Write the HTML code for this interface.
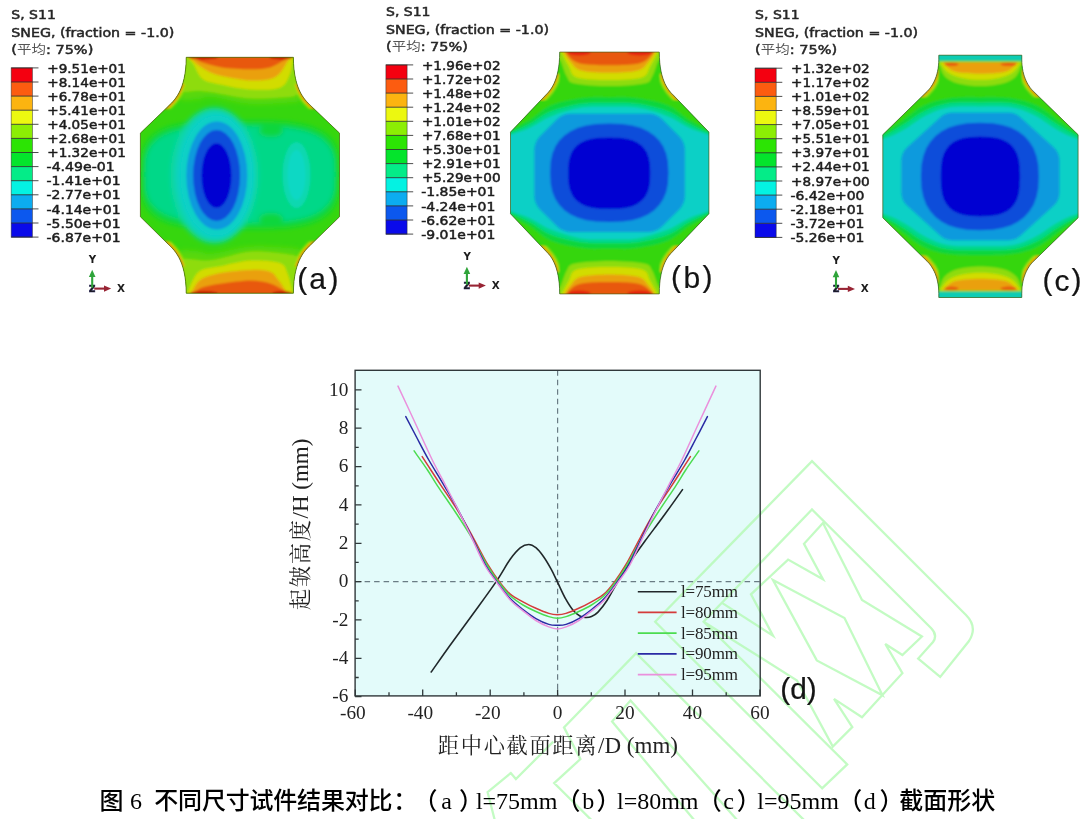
<!DOCTYPE html>
<html lang="zh"><head><meta charset="utf-8"><title>图 6 不同尺寸试件结果对比</title>
<style>
html,body{margin:0;padding:0;background:#fff;}
body{width:1087px;height:819px;overflow:hidden;}
svg{display:block;}
.lt text{font-family:"DejaVu Sans","Liberation Sans","Noto Sans CJK SC",sans-serif;font-size:12.4px;fill:#262626;stroke:#262626;stroke-width:.5px;}
.ll text{font-family:"DejaVu Sans","Liberation Sans",sans-serif;font-size:12.4px;fill:#1c1c1c;stroke:#1c1c1c;stroke-width:.5px;}
.tr text{font-family:"DejaVu Sans","Liberation Sans",sans-serif;font-size:10px;font-weight:bold;fill:#1c1c1c;}
.cj{fill:#555;stroke:none;}
.tk{stroke:#303030;stroke-width:1;opacity:.85}
.pl{font-family:"Liberation Sans",sans-serif;font-size:30px;fill:#141414;stroke:#141414;stroke-width:.2px;}
.ax text{font-family:"Liberation Serif","Noto Serif CJK SC",serif;fill:#222;}
.cap{font-family:"Liberation Serif","Noto Sans CJK SC",sans-serif;font-size:24px;font-weight:500;fill:#000;}
</style></head><body>
<svg width="1087" height="819" viewBox="0 0 1087 819">
<rect width="1087" height="819" fill="#fff"/>
<defs><filter id="bl" x="-10%" y="-10%" width="120%" height="120%"><feGaussianBlur stdDeviation="1.3"/></filter><filter id="b3" x="-10%" y="-10%" width="120%" height="120%"><feGaussianBlur stdDeviation="2.6"/></filter><filter id="b2" x="-5%" y="-5%" width="110%" height="110%"><feGaussianBlur stdDeviation="0.45"/></filter></defs>
<rect x="355.1" y="370.3" width="405.1" height="325.6" fill="#e3fbfa"/>
<path d="M822.1 788.3L655.2 621.7L812 461.1L966 615Q978 627 969 641L940.2 676.9L918.2 658.6L933 642Q938 635 931 628L812 509.5L703.6 621.7L847.2 764.4ZM703.6 621.7L797 680.5L832.8 746.5L852.3 727L834 698.9L862 717.2L902.4 673.2L885.3 644L902.4 655L921.9 636.5L862 600L823 523L804 543.8L823 579.2L788.1 559.6L751 594.3L773 635.7L721.6 602.6M773 580L844.5 618L882.5 695.2L816.8 660.4ZM592.4 821L554.2 783.1L580.4 759.1L564 727.4L636.1 653.1L805 821M695 821L612.1 721.6L630.5 700.5L738 821M553.3 741.6L515.9 779.1L510.8 773L487.6 792.2L495 821" fill="none" stroke="#b4fab4" stroke-opacity=".8" stroke-width="2.3" stroke-linejoin="miter"/>
<g class="ax">
<line x1="355.1" x2="760.2" y1="581.6" y2="581.6" stroke="#6a7c84" stroke-width="1.2" stroke-dasharray="5.5 4"/>
<line x1="557.6" x2="557.6" y1="370.3" y2="695.9" stroke="#6a7c84" stroke-width="1.2" stroke-dasharray="5.5 4"/>
<g filter="url(#b2)">
<path d="M431.2 672.0C434.4 667.5 443.6 654.3 450.3 645.0C457.0 635.7 463.9 626.5 471.5 616.0C479.1 605.5 489.6 591.4 496.0 581.9C502.4 572.4 506.1 565.0 510.2 559.3C514.3 553.6 517.4 550.2 520.5 547.7C523.6 545.2 526.2 544.5 528.8 544.5C531.4 544.5 533.4 545.7 535.9 547.7C538.4 549.7 541.0 553.1 543.6 556.7C546.2 560.4 549.1 565.4 551.4 569.6C553.7 573.8 555.0 577.0 557.4 581.9C559.8 586.8 563.1 594.4 565.8 599.2C568.5 604.0 571.1 608.0 573.5 610.8C575.9 613.6 578.0 614.9 579.9 616.0C581.8 617.1 583.2 617.4 585.1 617.5C587.0 617.6 589.4 617.5 591.5 616.6C593.6 615.7 595.4 614.8 598.0 612.1C600.6 609.4 603.8 605.4 607.0 600.5C610.2 595.6 613.4 588.9 617.3 582.5C621.2 576.1 625.6 568.9 630.2 562.0C634.8 555.1 639.4 548.7 645.0 541.0C650.6 533.3 657.4 524.6 663.6 516.0C669.9 507.4 679.4 494.0 682.5 489.6" fill="none" stroke="#20282a" stroke-width="1.6" stroke-linecap="round" stroke-linejoin="round"/>
<path d="M422.2 456.6C423.8 459.0 428.3 466.1 431.5 471.0C434.7 475.9 436.8 479.1 441.3 485.8C445.8 492.6 453.0 502.9 458.3 511.5C463.6 520.1 468.1 528.4 473.0 537.3C477.9 546.2 483.6 557.6 488.0 565.0C492.4 572.4 495.8 577.0 499.5 581.9C503.2 586.8 506.3 590.8 510.2 594.1C514.1 597.4 518.7 599.4 523.0 601.8C527.3 604.2 531.6 606.4 535.9 608.3C540.2 610.2 545.2 612.3 548.8 613.4C552.4 614.5 554.6 614.7 557.5 614.7C560.4 614.7 562.5 614.5 566.0 613.4C569.6 612.3 574.5 610.2 578.7 608.3C582.9 606.4 587.2 604.2 591.4 601.8C595.6 599.4 600.1 597.4 603.9 594.1C607.8 590.8 610.8 586.8 614.5 581.9C618.1 577.0 621.4 572.4 625.7 565.0C630.1 557.6 635.6 546.2 640.5 537.3C645.3 528.4 649.7 520.1 654.9 511.5C660.1 502.9 667.2 492.6 671.6 485.8C676.0 479.1 678.1 475.9 681.2 471.0C684.4 466.1 688.8 459.0 690.4 456.6" fill="none" stroke="#d43a3a" stroke-width="1.5" stroke-linecap="round" stroke-linejoin="round"/>
<path d="M414.1 450.9C416.3 454.1 423.6 464.2 427.5 470.0C431.4 475.8 432.9 478.9 437.5 485.8C442.1 492.7 449.3 502.9 455.0 511.5C460.7 520.1 466.2 528.4 471.5 537.3C476.8 546.2 482.5 557.6 487.0 565.0C491.5 572.4 494.6 576.8 498.5 581.9C502.4 587.0 506.1 591.9 510.2 595.8C514.3 599.6 518.7 602.4 523.0 605.0C527.3 607.6 531.6 609.6 535.9 611.5C540.2 613.4 545.2 615.5 548.8 616.6C552.4 617.7 554.6 618.3 557.5 618.3C560.4 618.3 562.5 617.7 566.1 616.6C569.6 615.5 574.6 613.4 578.8 611.5C583.0 609.6 587.3 607.6 591.5 605.0C595.7 602.4 600.1 599.6 604.1 595.8C608.2 591.9 611.9 587.0 615.7 581.9C619.5 576.8 622.6 572.4 627.0 565.0C631.5 557.6 637.0 546.2 642.3 537.3C647.6 528.4 653.0 520.1 658.6 511.5C664.2 502.9 671.3 492.7 675.8 485.8C680.3 478.9 681.8 475.8 685.7 470.0C689.5 464.2 696.7 454.1 698.9 450.9" fill="none" stroke="#4cdc50" stroke-width="1.5" stroke-linecap="round" stroke-linejoin="round"/>
<path d="M405.8 416.6C407.7 420.2 413.2 430.8 417.0 438.0C420.8 445.2 424.2 452.0 428.8 460.0C433.4 468.0 439.3 477.2 444.3 485.8C449.3 494.4 454.4 502.9 459.0 511.5C463.6 520.1 467.6 528.4 472.0 537.3C476.4 546.2 481.3 557.6 485.5 565.0C489.7 572.4 492.9 576.3 497.0 581.9C501.1 587.5 505.9 594.0 510.2 598.6C514.5 603.2 518.7 606.3 523.0 609.6C527.3 612.9 531.6 616.1 535.9 618.6C540.2 621.1 545.2 623.3 548.8 624.4C552.4 625.5 554.6 625.3 557.5 625.3C560.4 625.3 562.5 625.5 566.1 624.4C569.7 623.3 574.6 621.1 578.8 618.6C583.1 616.1 587.4 612.9 591.6 609.6C595.8 606.3 600.0 603.2 604.2 598.6C608.5 594.0 613.2 587.5 617.3 581.9C621.3 576.3 624.5 572.4 628.6 565.0C632.8 557.6 637.6 546.2 642.0 537.3C646.3 528.4 650.3 520.1 654.8 511.5C659.4 502.9 664.4 494.4 669.3 485.8C674.3 477.2 680.2 468.0 684.7 460.0C689.2 452.0 692.5 445.2 696.3 438.0C700.1 430.8 705.5 420.2 707.4 416.6" fill="none" stroke="#2a2aa4" stroke-width="1.5" stroke-linecap="round" stroke-linejoin="round"/>
<path d="M398.0 386.1C400.9 392.2 409.5 410.7 415.2 423.0C420.9 435.3 427.2 449.5 432.3 460.0C437.4 470.5 441.4 477.2 445.8 485.8C450.2 494.4 454.7 502.9 459.0 511.5C463.3 520.1 467.2 528.4 471.5 537.3C475.8 546.2 480.5 557.6 484.6 565.0C488.7 572.4 492.0 576.1 496.3 581.9C500.6 587.7 505.8 595.1 510.2 599.9C514.6 604.7 518.7 607.4 523.0 610.8C527.3 614.2 531.6 617.8 535.9 620.5C540.2 623.2 545.2 625.5 548.8 626.9C552.4 628.3 554.6 628.9 557.5 628.9C560.4 628.9 562.6 628.3 566.1 626.9C569.7 625.5 574.7 623.2 578.9 620.5C583.2 617.8 587.5 614.2 591.8 610.8C596.0 607.4 600.1 604.7 604.5 599.9C608.9 595.1 614.0 587.7 618.3 581.9C622.5 576.1 625.8 572.4 629.9 565.0C634.0 557.6 638.7 546.2 642.9 537.3C647.1 528.4 651.1 520.1 655.3 511.5C659.6 502.9 664.0 494.4 668.4 485.8C672.8 477.2 676.8 470.5 681.8 460.0C686.9 449.5 693.1 435.3 698.8 423.0C704.5 410.7 713.0 392.2 715.9 386.1" fill="none" stroke="#ea90dc" stroke-width="1.5" stroke-linecap="round" stroke-linejoin="round"/>
<line x1="637.8" x2="676.6" y1="591.7" y2="591.7" stroke="#20282a" stroke-width="1.6"/>
<line x1="637.8" x2="676.6" y1="612.4" y2="612.4" stroke="#d43a3a" stroke-width="1.6"/>
<line x1="637.8" x2="676.6" y1="633.1" y2="633.1" stroke="#4cdc50" stroke-width="1.6"/>
<line x1="637.8" x2="676.6" y1="653.9" y2="653.9" stroke="#2a2aa4" stroke-width="1.6"/>
<line x1="637.8" x2="676.6" y1="674.6" y2="674.6" stroke="#ea90dc" stroke-width="1.6"/>
</g>
<text x="681" y="597.1" font-size="17" textLength="57">l=75mm</text>
<text x="681" y="617.8" font-size="17" textLength="57">l=80mm</text>
<text x="681" y="638.5" font-size="17" textLength="57">l=85mm</text>
<text x="681" y="659.3" font-size="17" textLength="57">l=90mm</text>
<text x="681" y="680.0" font-size="17" textLength="57">l=95mm</text>
<rect x="355.1" y="370.3" width="405.1" height="325.6" fill="none" stroke="#30383a" stroke-width="1.4"/>
<path d="M355.1 696.6h6.4M355.1 677.5h3.6M355.1 658.3h6.4M355.1 639.1h3.6M355.1 619.9h6.4M355.1 600.8h3.6M355.1 581.6h6.4M355.1 562.4h3.6M355.1 543.3h6.4M355.1 524.1h3.6M355.1 504.9h6.4M355.1 485.8h3.6M355.1 466.6h6.4M355.1 447.4h3.6M355.1 428.2h6.4M355.1 409.1h3.6M355.1 389.9h6.4M355.3 695.9v-6.4M389.0 695.9v-3.6M422.7 695.9v-6.4M456.4 695.9v-3.6M490.2 695.9v-6.4M523.9 695.9v-3.6M557.6 695.9v-6.4M591.3 695.9v-3.6M625.0 695.9v-6.4M658.8 695.9v-3.6M692.5 695.9v-6.4M726.2 695.9v-3.6M759.9 695.9v-6.4" stroke="#30383a" stroke-width="1.3" fill="none"/>
<text x="348.4" y="702.3" font-size="19.3" text-anchor="end">-6</text>
<text x="348.4" y="664.0" font-size="19.3" text-anchor="end">-4</text>
<text x="348.4" y="625.6" font-size="19.3" text-anchor="end">-2</text>
<text x="348.4" y="587.3" font-size="19.3" text-anchor="end">0</text>
<text x="348.4" y="549.0" font-size="19.3" text-anchor="end">2</text>
<text x="348.4" y="510.6" font-size="19.3" text-anchor="end">4</text>
<text x="348.4" y="472.3" font-size="19.3" text-anchor="end">6</text>
<text x="348.4" y="433.9" font-size="19.3" text-anchor="end">8</text>
<text x="348.4" y="395.6" font-size="19.3" text-anchor="end">10</text>
<text x="352.9" y="718.6" font-size="19.3" text-anchor="middle">-60</text>
<text x="420.3" y="718.6" font-size="19.3" text-anchor="middle">-40</text>
<text x="487.8" y="718.6" font-size="19.3" text-anchor="middle">-20</text>
<text x="557.6" y="718.6" font-size="19.3" text-anchor="middle">0</text>
<text x="625.0" y="718.6" font-size="19.3" text-anchor="middle">20</text>
<text x="692.5" y="718.6" font-size="19.3" text-anchor="middle">40</text>
<text x="759.9" y="718.6" font-size="19.3" text-anchor="middle">60</text>
<text x="557.9" y="753.4" font-size="23" text-anchor="middle"><tspan font-size="21.2" letter-spacing="1.7">距中心截面距离</tspan>/D (mm)</text>
<text transform="translate(308.3 524.3) rotate(-90)" font-size="23" text-anchor="middle"><tspan font-size="21.2" letter-spacing="1.7">起皱高度</tspan>/H (mm)</text>
</g>
<clipPath id="cpa"><path d="M186.2 57.3L293.4 57.3L293.4 57.3C293.4 91.6 306.9 101.8 311.4 106.3L339.5 133.1L339.5 216.8L311.4 244.2C306.9 248.7 293.4 258.9 293.4 293.2L293.4 293.2L186.2 293.2L186.2 293.2C186.2 258.9 172.7 248.7 168.2 244.2L140.4 216.8L140.4 133.1L168.2 106.3C172.7 101.8 186.2 91.6 186.2 57.3Z"/></clipPath>
<g clip-path="url(#cpa)">
<path d="M186.2 57.3L293.4 57.3L293.4 57.3C293.4 91.6 306.9 101.8 311.4 106.3L339.5 133.1L339.5 216.8L311.4 244.2C306.9 248.7 293.4 258.9 293.4 293.2L293.4 293.2L186.2 293.2L186.2 293.2C186.2 258.9 172.7 248.7 168.2 244.2L140.4 216.8L140.4 133.1L168.2 106.3C172.7 101.8 186.2 91.6 186.2 57.3Z" fill="#36d60e" stroke="#36d60e" stroke-width="8"/>
<g filter="url(#b3)">
<path d="M339.0 175.0L338.3 193.1L336.1 202.1L332.5 208.9L327.4 214.5L320.7 219.0L312.4 222.7L302.2 225.5L289.6 227.4L273.2 228.6L240.0 229.0L206.8 228.6L190.4 227.4L177.8 225.5L167.6 222.7L159.3 219.0L152.6 214.5L147.5 208.9L143.9 202.1L141.7 193.1L141.0 175.0L141.7 156.9L143.9 147.9L147.5 141.1L152.6 135.5L159.3 131.0L167.6 127.3L177.8 124.5L190.4 122.6L206.8 121.4L240.0 121.0L273.2 121.4L289.6 122.6L302.2 124.5L312.4 127.3L320.7 131.0L327.4 135.5L332.5 141.1L336.1 147.9L338.3 156.9Z" fill="#10d63c"/>
<path d="M335.0 174.5L334.3 189.7L332.1 197.8L328.4 204.1L323.2 209.3L316.5 213.6L308.2 217.0L298.0 219.6L285.6 221.5L269.8 222.6L240.0 223.0L210.2 222.6L194.4 221.5L182.0 219.6L171.8 217.0L163.5 213.6L156.8 209.3L151.6 204.1L147.9 197.8L145.7 189.7L145.0 174.5L145.7 159.3L147.9 151.2L151.6 144.9L156.8 139.7L163.5 135.4L171.8 132.0L182.0 129.4L194.4 127.5L210.2 126.4L240.0 126.0L269.8 126.4L285.6 127.5L298.0 129.4L308.2 132.0L316.5 135.4L323.2 139.7L328.4 144.9L332.1 151.2L334.3 159.3Z" fill="#06d888"/>
<ellipse cx="271" cy="131" rx="12" ry="6" fill="#10d63c"/>
<ellipse cx="271" cy="219" rx="12" ry="6" fill="#10d63c"/>
<ellipse cx="214.5" cy="175.5" rx="44" ry="68" fill="#08d6a8"/>
<ellipse cx="215.5" cy="175.5" rx="39" ry="63" fill="#0cd0c6"/>
<path d="M180.0 100.0C181.7 100.0 186.7 100.2 190.0 100.0C193.3 99.8 196.3 99.5 200.0 99.0C203.7 98.5 203.8 96.2 212.3 97.0C220.8 97.8 238.0 103.1 250.9 104.0C263.8 104.9 281.4 103.0 289.6 102.5C297.8 102.0 298.3 101.2 300.0 101.0L300.0 50L180.0 50Z" fill="#58d80a"/>
<path d="M180.0 250.4C181.7 250.4 186.7 250.2 190.0 250.4C193.3 250.6 196.3 250.9 200.0 251.4C203.7 251.9 203.8 254.2 212.3 253.4C220.8 252.6 238.0 247.3 250.9 246.4C263.8 245.5 281.4 247.4 289.6 247.9C297.8 248.4 298.3 249.1 300.0 249.4L300.0 300L180.0 300Z" fill="#58d80a"/>
</g>
<g filter="url(#bl)">
<ellipse cx="216.5" cy="175.5" rx="36" ry="60" fill="#0cd0c6"/>
<ellipse cx="216.8" cy="175.5" rx="30.5" ry="54" fill="#0c9add"/>
<ellipse cx="216.6" cy="175.5" rx="23.5" ry="45.5" fill="#0c4eda"/>
<ellipse cx="216.5" cy="175.6" rx="15" ry="32.3" fill="#0606d2"/>
<ellipse cx="296.5" cy="175" rx="14" ry="33" fill="#0cd8b0"/>
<ellipse cx="296.5" cy="175" rx="9" ry="25" fill="#10d8c4"/>
<path d="M180.0 92.0C181.3 92.0 185.3 92.2 188.0 92.0C190.7 91.8 191.9 90.9 196.0 91.0C200.1 91.1 203.2 91.2 212.3 92.5C221.5 93.8 238.0 97.8 250.9 98.6C263.8 99.3 282.1 97.6 289.6 97.0C297.1 96.4 293.9 95.3 296.0 95.0C298.1 94.7 301.0 95.0 302.0 95.0L302.0 50L180.0 50Z" fill="#8edc08"/>
<path d="M186.5 57.0C187.6 58.1 190.3 59.8 193.0 63.5C195.7 67.2 197.8 75.5 202.6 79.0C207.4 82.5 213.8 83.0 221.9 84.8C230.0 86.6 241.2 89.1 250.9 89.6C260.6 90.1 273.4 90.1 279.9 87.7C286.3 85.3 287.3 80.2 289.6 75.1C291.9 70.0 292.9 60.0 293.5 57.0L293.5 50L186.5 50Z" fill="#d2dc06"/>
<path d="M189.1 57.0C190.7 58.4 194.9 62.8 198.8 65.5C202.7 68.2 206.8 71.1 212.3 73.2C217.8 75.3 225.2 76.8 231.6 78.0C238.0 79.2 244.5 80.3 250.9 80.5C257.3 80.7 265.4 80.2 270.2 79.0C275.0 77.8 277.0 76.1 279.9 73.2C282.8 70.3 285.7 64.3 287.6 61.6C289.5 58.9 290.9 57.8 291.5 57.0L291.5 50L189.1 50Z" fill="#eaa00a"/>
<path d="M193.0 57.0C194.6 57.9 197.8 60.9 202.6 62.6C207.4 64.3 213.8 66.3 221.9 67.4C230.0 68.5 242.9 69.3 250.9 69.3C258.9 69.3 265.1 68.7 270.2 67.4C275.3 66.1 278.6 63.3 281.8 61.6C285.0 59.9 288.3 57.8 289.6 57.0L289.6 50L193.0 50Z" fill="#e8580c"/>
<ellipse cx="203" cy="57" rx="15" ry="2.6" fill="#c41800"/>
<ellipse cx="281" cy="57" rx="12" ry="2.6" fill="#c41800"/>
<path d="M180.0 258.0C181.7 258.2 184.6 258.7 190.0 259.0C195.4 259.3 202.2 261.2 212.3 260.0C222.5 258.8 238.0 252.4 250.9 251.5C263.8 250.6 282.1 253.7 289.6 254.4C297.1 255.2 293.9 255.7 296.0 256.0C298.1 256.3 301.0 256.0 302.0 256.0L302.0 300L180.0 300Z" fill="#8edc08"/>
<path d="M187.0 293.5C189.0 289.9 193.0 276.4 198.8 271.8C204.6 267.2 213.2 267.9 221.9 266.0C230.6 264.1 241.2 261.1 250.9 260.6C260.6 260.1 273.8 260.9 279.9 263.1C286.0 265.3 285.4 268.7 287.6 273.8C289.8 278.9 292.1 290.2 293.0 293.5L293.0 300L187.0 300Z" fill="#d2dc06"/>
<path d="M191.0 293.5C192.6 291.2 195.5 283.1 200.7 279.6C205.8 276.2 213.5 274.4 221.9 272.8C230.3 271.2 242.9 270.1 250.9 269.9C258.9 269.7 265.7 270.2 270.2 271.8C274.7 273.4 275.1 276.0 278.0 279.6C280.9 283.2 286.0 291.2 287.6 293.5L287.6 300L191.0 300Z" fill="#eaa00a"/>
<path d="M193.0 293.5C194.6 292.5 197.8 289.0 202.6 287.3C207.4 285.6 213.8 284.5 221.9 283.4C230.0 282.3 242.9 280.5 250.9 280.5C258.9 280.5 265.1 281.9 270.2 283.4C275.3 284.8 278.6 287.5 281.8 289.2C285.0 290.9 288.3 292.8 289.6 293.5L289.6 300L193.0 300Z" fill="#e8580c"/>
<ellipse cx="204" cy="293.6" rx="14" ry="2.6" fill="#c41800"/>
<ellipse cx="282" cy="293.6" rx="10" ry="2.6" fill="#c41800"/>
<clipPath id="hca"><rect x="164.0" y="84.0" width="21.5" height="25.0"/><rect x="164.0" y="241.4" width="21.5" height="25.0"/><rect x="294.1" y="84.0" width="21.5" height="25.0"/><rect x="294.1" y="241.4" width="21.5" height="25.0"/></clipPath>
<g clip-path="url(#hca)"><path d="M186.2 57.3L293.4 57.3L293.4 57.3C293.4 91.6 306.9 101.8 311.4 106.3L339.5 133.1L339.5 216.8L311.4 244.2C306.9 248.7 293.4 258.9 293.4 293.2L293.4 293.2L186.2 293.2L186.2 293.2C186.2 258.9 172.7 248.7 168.2 244.2L140.4 216.8L140.4 133.1L168.2 106.3C172.7 101.8 186.2 91.6 186.2 57.3Z" fill="none" stroke="#8edc08" stroke-width="8.0"/><path d="M186.2 57.3L293.4 57.3L293.4 57.3C293.4 91.6 306.9 101.8 311.4 106.3L339.5 133.1L339.5 216.8L311.4 244.2C306.9 248.7 293.4 258.9 293.4 293.2L293.4 293.2L186.2 293.2L186.2 293.2C186.2 258.9 172.7 248.7 168.2 244.2L140.4 216.8L140.4 133.1L168.2 106.3C172.7 101.8 186.2 91.6 186.2 57.3Z" fill="none" stroke="#d2dc06" stroke-width="4.6"/><path d="M186.2 57.3L293.4 57.3L293.4 57.3C293.4 91.6 306.9 101.8 311.4 106.3L339.5 133.1L339.5 216.8L311.4 244.2C306.9 248.7 293.4 258.9 293.4 293.2L293.4 293.2L186.2 293.2L186.2 293.2C186.2 258.9 172.7 248.7 168.2 244.2L140.4 216.8L140.4 133.1L168.2 106.3C172.7 101.8 186.2 91.6 186.2 57.3Z" fill="none" stroke="#e8580c" stroke-width="2.0"/></g>
</g></g>
<path d="M186.2 57.3L293.4 57.3L293.4 57.3C293.4 91.6 306.9 101.8 311.4 106.3L339.5 133.1L339.5 216.8L311.4 244.2C306.9 248.7 293.4 258.9 293.4 293.2L293.4 293.2L186.2 293.2L186.2 293.2C186.2 258.9 172.7 248.7 168.2 244.2L140.4 216.8L140.4 133.1L168.2 106.3C172.7 101.8 186.2 91.6 186.2 57.3Z" fill="none" stroke="#4a5a10" stroke-width=".9" opacity=".75" filter="url(#b2)"/>
<clipPath id="cpb"><path d="M559.7 52.1L659.3 52.1L659.3 52.1C659.3 82.2 669.8 91.6 673.3 95.1L708.9 132.1L708.9 213.8L673.3 250.9C669.8 254.4 659.3 263.8 659.3 293.9L659.3 293.9L559.7 293.9L559.7 293.9C559.7 263.8 549.2 254.4 545.7 250.9L510.5 213.8L510.5 132.1L545.7 95.1C549.2 91.6 559.7 82.2 559.7 52.1Z"/></clipPath>
<g clip-path="url(#cpb)">
<path d="M559.7 52.1L659.3 52.1L659.3 52.1C659.3 82.2 669.8 91.6 673.3 95.1L708.9 132.1L708.9 213.8L673.3 250.9C669.8 254.4 659.3 263.8 659.3 293.9L659.3 293.9L559.7 293.9L559.7 293.9C559.7 263.8 549.2 254.4 545.7 250.9L510.5 213.8L510.5 132.1L545.7 95.1C549.2 91.6 559.7 82.2 559.7 52.1Z" fill="#0cd0c6" stroke="#0cd0c6" stroke-width="8"/>
<g filter="url(#bl)">
<path d="M505.0 136.5C506.5 136.0 509.8 135.0 514.0 133.5C518.2 132.0 524.3 130.3 530.4 127.5C536.5 124.7 542.2 119.8 550.6 116.5C559.0 113.2 571.2 109.2 581.0 107.6C590.8 105.9 600.0 106.6 609.5 106.6C619.0 106.6 628.2 105.9 638.0 107.6C647.8 109.2 660.0 113.2 668.4 116.5C676.8 119.8 682.5 124.7 688.6 127.5C694.7 130.3 700.8 132.0 705.0 133.5C709.2 135.0 712.5 136.0 714.0 136.5L714.0 40L505.0 40Z" fill="#06d888"/>
<path d="M505.0 209.5C506.5 210.0 509.8 211.0 514.0 212.5C518.2 214.0 524.3 215.7 530.4 218.5C536.5 221.3 542.2 226.2 550.6 229.5C559.0 232.8 571.2 236.8 581.0 238.4C590.8 240.1 600.0 239.4 609.5 239.4C619.0 239.4 628.2 240.1 638.0 238.4C647.8 236.8 660.0 232.8 668.4 229.5C676.8 226.2 682.5 221.3 688.6 218.5C694.7 215.7 700.8 214.0 705.0 212.5C709.2 211.0 712.5 210.0 714.0 209.5L714.0 305L505.0 305Z" fill="#06d888"/>
<path d="M505.0 133.5C506.2 133.2 507.9 133.7 512.1 132.0C516.3 130.3 524.0 126.9 530.4 123.5C536.8 120.1 542.2 114.8 550.6 111.5C559.0 108.2 571.2 105.2 581.0 103.8C590.8 102.3 600.0 102.8 609.5 102.8C619.0 102.8 628.2 102.3 638.0 103.8C647.8 105.2 660.0 108.2 668.4 111.5C676.8 114.8 682.2 120.1 688.6 123.5C695.0 126.9 702.7 130.3 706.9 132.0C711.1 133.7 712.8 133.2 714.0 133.5L714.0 40L505.0 40Z" fill="#10d63c"/>
<path d="M505.0 212.5C506.2 212.8 507.9 212.3 512.1 214.0C516.3 215.7 524.0 219.1 530.4 222.5C536.8 225.9 542.2 231.2 550.6 234.5C559.0 237.8 571.2 240.8 581.0 242.2C590.8 243.6 600.0 243.2 609.5 243.2C619.0 243.2 628.2 243.6 638.0 242.2C647.8 240.8 660.0 237.8 668.4 234.5C676.8 231.2 682.2 225.9 688.6 222.5C695.0 219.1 702.7 215.7 706.9 214.0C711.1 212.3 712.8 212.8 714.0 212.5L714.0 305L505.0 305Z" fill="#10d63c"/>
<path d="M505.0 131.0C505.9 130.8 506.3 131.9 510.5 130.0C514.7 128.1 523.7 123.6 530.4 119.5C537.1 115.4 542.2 109.0 550.6 105.5C559.0 102.0 571.2 99.5 581.0 98.2C590.8 96.9 600.0 97.4 609.5 97.4C619.0 97.4 628.2 96.9 638.0 98.2C647.8 99.5 660.0 102.0 668.4 105.5C676.8 109.0 681.9 115.4 688.6 119.5C695.3 123.6 704.3 128.1 708.5 130.0C712.7 131.9 713.1 130.8 714.0 131.0L714.0 40L505.0 40Z" fill="#36d60e"/>
<path d="M505.0 215.0C505.9 215.2 506.3 214.1 510.5 216.0C514.7 217.9 523.7 222.4 530.4 226.5C537.1 230.6 542.2 236.9 550.6 240.5C559.0 244.1 571.2 246.5 581.0 247.8C590.8 249.2 600.0 248.6 609.5 248.6C619.0 248.6 628.2 249.2 638.0 247.8C647.8 246.5 660.0 244.1 668.4 240.5C676.8 236.9 681.9 230.6 688.6 226.5C695.3 222.4 704.3 217.9 708.5 216.0C712.7 214.1 713.1 215.2 714.0 215.0L714.0 305L505.0 305Z" fill="#36d60e"/>
<path d="M556.0 60.2C556.7 60.2 558.5 57.5 560.3 60.2C562.1 62.9 564.4 72.5 566.8 76.4C569.2 80.3 567.8 81.9 574.9 83.5C582.0 85.1 598.0 86.1 609.5 86.1C621.0 86.1 637.0 85.1 644.1 83.5C651.2 81.9 649.8 80.3 652.2 76.4C654.6 72.5 656.9 62.9 658.7 60.2C660.5 57.5 662.3 60.2 663.0 60.2L663.0 40L556.0 40Z" fill="#8edc08"/>
<path d="M556.0 286.8C556.7 286.8 558.5 289.5 560.3 286.8C562.1 284.1 564.4 274.5 566.8 270.6C569.2 266.7 567.8 265.1 574.9 263.5C582.0 261.9 598.0 260.9 609.5 260.9C621.0 260.9 637.0 261.9 644.1 263.5C651.2 265.1 649.8 266.7 652.2 270.6C654.6 274.5 656.9 284.1 658.7 286.8C660.5 289.5 662.3 286.8 663.0 286.8L663.0 305L556.0 305Z" fill="#8edc08"/>
<path d="M560.7 51.0C562.1 53.5 566.1 61.9 568.8 66.3C571.5 70.7 570.1 75.1 576.9 77.4C583.7 79.7 598.6 79.9 609.5 79.9C620.4 79.9 635.3 79.7 642.1 77.4C648.9 75.1 647.5 70.7 650.2 66.3C652.9 61.9 656.9 53.5 658.3 51.0L658.3 40L560.7 40Z" fill="#d2dc06"/>
<path d="M560.7 296.0C562.1 293.4 566.1 285.1 568.8 280.7C571.5 276.3 570.1 271.9 576.9 269.6C583.7 267.3 598.6 267.1 609.5 267.1C620.4 267.1 635.3 267.3 642.1 269.6C648.9 271.9 647.5 276.3 650.2 280.7C652.9 285.1 656.9 293.4 658.3 296.0L658.3 305L560.7 305Z" fill="#d2dc06"/>
<path d="M562.7 51.0C564.1 52.9 567.8 59.1 570.8 62.3C573.8 65.5 574.5 68.7 581.0 70.4C587.5 72.2 600.0 72.8 609.5 72.8C619.0 72.8 631.5 72.2 638.0 70.4C644.5 68.7 645.2 65.5 648.2 62.3C651.2 59.1 654.9 52.9 656.3 51.0L656.3 40L562.7 40Z" fill="#eaa00a"/>
<path d="M562.7 296.2C564.1 294.3 567.8 288.1 570.8 284.9C573.8 281.7 574.5 278.6 581.0 276.8C587.5 275.1 600.0 274.4 609.5 274.4C619.0 274.4 631.5 275.1 638.0 276.8C644.5 278.6 645.2 281.7 648.2 284.9C651.2 288.1 654.9 294.3 656.3 296.2L656.3 305L562.7 305Z" fill="#eaa00a"/>
<path d="M564.8 51.0C566.1 52.5 569.5 58.0 572.9 60.2C576.3 62.4 578.9 63.4 585.0 64.3C591.1 65.1 601.3 65.3 609.5 65.3C617.7 65.3 627.9 65.1 634.0 64.3C640.1 63.4 642.7 62.4 646.1 60.2C649.5 58.0 652.9 52.5 654.2 51.0L654.2 40L564.8 40Z" fill="#e8580c"/>
<path d="M564.8 296.4C566.1 294.9 569.5 289.4 572.9 287.2C576.3 285.0 578.9 283.9 585.0 283.1C591.1 282.2 601.3 282.1 609.5 282.1C617.7 282.1 627.9 282.2 634.0 283.1C640.1 283.9 642.7 285.0 646.1 287.2C649.5 289.4 652.9 294.9 654.2 296.4L654.2 305L564.8 305Z" fill="#e8580c"/>
<ellipse cx="579" cy="52.3" rx="12" ry="3.2" fill="#e42408"/>
<ellipse cx="640" cy="52.3" rx="13" ry="3.2" fill="#e42408"/>
<ellipse cx="579" cy="293.7" rx="12" ry="3.2" fill="#e42408"/>
<ellipse cx="640" cy="293.7" rx="13" ry="3.2" fill="#e42408"/>
<polygon points="648.3,133.7 664.8,150.1 664.8,195.5 648.3,211.9 570.9,211.9 554.4,195.5 554.4,150.1 570.9,133.7" fill="#0c9add" stroke="#0c9add" stroke-width="40" stroke-linejoin="round"/>
<path d="M668.5 172.8L667.9 184.0L666.2 192.1L663.3 199.0L659.3 205.0L654.2 210.2L648.0 214.4L640.8 217.8L632.4 220.2L622.7 221.6L609.3 222.1L595.9 221.6L586.2 220.2L577.8 217.8L570.6 214.4L564.4 210.2L559.3 205.0L555.3 199.0L552.4 192.1L550.7 184.0L550.1 172.8L550.7 161.6L552.4 153.5L555.3 146.6L559.3 140.6L564.4 135.4L570.6 131.2L577.8 127.8L586.2 125.4L595.9 124.0L609.3 123.5L622.7 124.0L632.4 125.4L640.8 127.8L648.0 131.2L654.2 135.4L659.3 140.6L663.3 146.6L666.2 153.5L667.9 161.6Z" fill="#0c4eda"/>
<path d="M650.4 173.2L650.0 182.7L648.9 188.7L647.1 193.6L644.6 197.7L641.4 201.1L637.4 204.0L632.6 206.2L627.0 207.7L620.2 208.7L609.2 209.0L598.2 208.7L591.4 207.7L585.8 206.2L581.0 204.0L577.0 201.1L573.8 197.7L571.3 193.6L569.5 188.7L568.4 182.7L568.0 173.2L568.4 163.7L569.5 157.7L571.3 152.8L573.8 148.7L577.0 145.3L581.0 142.4L585.8 140.2L591.4 138.7L598.2 137.7L609.2 137.4L620.2 137.7L627.0 138.7L632.6 140.2L637.4 142.4L641.4 145.3L644.6 148.7L647.1 152.8L648.9 157.7L650.0 163.7Z" fill="#0606d2"/>
<clipPath id="hcb"><rect x="540.0" y="74.0" width="19.0" height="26.0"/><rect x="540.0" y="246.0" width="19.0" height="26.0"/><rect x="660.0" y="74.0" width="19.0" height="26.0"/><rect x="660.0" y="246.0" width="19.0" height="26.0"/></clipPath>
<g clip-path="url(#hcb)"><path d="M559.7 52.1L659.3 52.1L659.3 52.1C659.3 82.2 669.8 91.6 673.3 95.1L708.9 132.1L708.9 213.8L673.3 250.9C669.8 254.4 659.3 263.8 659.3 293.9L659.3 293.9L559.7 293.9L559.7 293.9C559.7 263.8 549.2 254.4 545.7 250.9L510.5 213.8L510.5 132.1L545.7 95.1C549.2 91.6 559.7 82.2 559.7 52.1Z" fill="none" stroke="#8edc08" stroke-width="8.0"/><path d="M559.7 52.1L659.3 52.1L659.3 52.1C659.3 82.2 669.8 91.6 673.3 95.1L708.9 132.1L708.9 213.8L673.3 250.9C669.8 254.4 659.3 263.8 659.3 293.9L659.3 293.9L559.7 293.9L559.7 293.9C559.7 263.8 549.2 254.4 545.7 250.9L510.5 213.8L510.5 132.1L545.7 95.1C549.2 91.6 559.7 82.2 559.7 52.1Z" fill="none" stroke="#d2dc06" stroke-width="4.6"/><path d="M559.7 52.1L659.3 52.1L659.3 52.1C659.3 82.2 669.8 91.6 673.3 95.1L708.9 132.1L708.9 213.8L673.3 250.9C669.8 254.4 659.3 263.8 659.3 293.9L659.3 293.9L559.7 293.9L559.7 293.9C559.7 263.8 549.2 254.4 545.7 250.9L510.5 213.8L510.5 132.1L545.7 95.1C549.2 91.6 559.7 82.2 559.7 52.1Z" fill="none" stroke="#e8580c" stroke-width="2.0"/></g>
</g></g>
<path d="M559.7 52.1L659.3 52.1L659.3 52.1C659.3 82.2 669.8 91.6 673.3 95.1L708.9 132.1L708.9 213.8L673.3 250.9C669.8 254.4 659.3 263.8 659.3 293.9L659.3 293.9L559.7 293.9L559.7 293.9C559.7 263.8 549.2 254.4 545.7 250.9L510.5 213.8L510.5 132.1L545.7 95.1C549.2 91.6 559.7 82.2 559.7 52.1Z" fill="none" stroke="#4a5a10" stroke-width=".9" opacity=".75" filter="url(#b2)"/>
<clipPath id="cpc"><path d="M938.8 55.2L1021.8 55.2L1021.8 59.2C1021.8 77.9 1029.8 87.8 1033.3 91.2L1078.1 134.7L1078.1 217.8L1033.3 261.5C1029.8 264.9 1021.8 274.8 1021.8 293.5L1021.8 297.5L938.8 297.5L938.8 293.5C938.8 274.8 930.8 264.9 927.3 261.5L882.8 217.8L882.8 134.7L927.3 91.2C930.8 87.8 938.8 77.9 938.8 59.2Z"/></clipPath>
<g clip-path="url(#cpc)">
<path d="M938.8 55.2L1021.8 55.2L1021.8 59.2C1021.8 77.9 1029.8 87.8 1033.3 91.2L1078.1 134.7L1078.1 217.8L1033.3 261.5C1029.8 264.9 1021.8 274.8 1021.8 293.5L1021.8 297.5L938.8 297.5L938.8 293.5C938.8 274.8 930.8 264.9 927.3 261.5L882.8 217.8L882.8 134.7L927.3 91.2C930.8 87.8 938.8 77.9 938.8 59.2Z" fill="#0cd0c6" stroke="#0cd0c6" stroke-width="8"/>
<g filter="url(#bl)">
<path d="M876.0 141.0C878.5 140.2 886.0 138.2 891.3 135.9C896.5 133.7 901.7 130.8 907.5 127.4C913.2 124.0 918.9 118.8 925.7 115.5C932.4 112.2 938.8 108.9 948.0 107.4C957.1 105.9 969.6 106.4 980.4 106.4C991.2 106.4 1003.7 105.9 1012.8 107.4C1022.0 108.9 1028.4 112.2 1035.1 115.5C1041.9 118.8 1047.6 124.0 1053.3 127.4C1059.1 130.8 1064.3 133.7 1069.5 135.9C1074.8 138.2 1082.3 140.2 1084.8 141.0L1084.8 40L876.0 40Z" fill="#06d888"/>
<path d="M876.0 211.6C878.5 212.4 886.0 214.4 891.3 216.7C896.5 218.9 901.7 221.8 907.5 225.2C913.2 228.6 918.9 233.8 925.7 237.1C932.4 240.4 938.8 243.7 948.0 245.2C957.1 246.7 969.6 246.2 980.4 246.2C991.2 246.2 1003.7 246.7 1012.8 245.2C1022.0 243.7 1028.4 240.4 1035.1 237.1C1041.9 233.8 1047.6 228.6 1053.3 225.2C1059.1 221.8 1064.3 218.9 1069.5 216.7C1074.8 214.4 1082.3 212.4 1084.8 211.6L1084.8 310L876.0 310Z" fill="#06d888"/>
<path d="M876.0 138.5C877.9 137.7 882.7 136.2 887.2 133.9C891.8 131.6 897.4 128.3 903.4 124.6C909.5 120.9 916.2 115.0 923.7 111.4C931.1 107.9 938.5 104.9 948.0 103.3C957.4 101.8 969.6 102.4 980.4 102.4C991.2 102.4 1003.4 101.8 1012.8 103.3C1022.3 104.9 1029.7 107.9 1037.1 111.4C1044.6 115.0 1051.3 120.9 1057.4 124.6C1063.4 128.3 1069.0 131.6 1073.6 133.9C1078.1 136.2 1082.9 137.7 1084.8 138.5L1084.8 40L876.0 40Z" fill="#10d63c"/>
<path d="M876.0 214.1C877.9 214.9 882.7 216.4 887.2 218.7C891.8 221.0 897.4 224.3 903.4 228.0C909.5 231.7 916.2 237.6 923.7 241.2C931.1 244.7 938.5 247.7 948.0 249.3C957.4 250.8 969.6 250.2 980.4 250.2C991.2 250.2 1003.4 250.8 1012.8 249.3C1022.3 247.7 1029.7 244.7 1037.1 241.2C1044.6 237.6 1051.3 231.7 1057.4 228.0C1063.4 224.3 1069.0 221.0 1073.6 218.7C1078.1 216.4 1082.9 214.9 1084.8 214.1L1084.8 310L876.0 310Z" fill="#10d63c"/>
<path d="M876.0 136.5C877.5 135.8 880.6 134.9 885.2 132.1C889.8 129.3 897.0 124.2 903.4 119.7C909.8 115.3 916.2 109.1 923.7 105.6C931.1 102.0 938.5 99.9 948.0 98.5C957.4 97.1 969.6 97.4 980.4 97.4C991.2 97.4 1003.4 97.1 1012.8 98.5C1022.3 99.9 1029.7 102.0 1037.1 105.6C1044.6 109.1 1051.0 115.3 1057.4 119.7C1063.8 124.2 1071.0 129.3 1075.6 132.1C1080.2 134.9 1083.3 135.8 1084.8 136.5L1084.8 40L876.0 40Z" fill="#36d60e"/>
<path d="M876.0 216.1C877.5 216.8 880.6 217.7 885.2 220.5C889.8 223.3 897.0 228.4 903.4 232.9C909.8 237.3 916.2 243.5 923.7 247.0C931.1 250.6 938.5 252.7 948.0 254.1C957.4 255.5 969.6 255.2 980.4 255.2C991.2 255.2 1003.4 255.5 1012.8 254.1C1022.3 252.7 1029.7 250.6 1037.1 247.0C1044.6 243.5 1051.0 237.3 1057.4 232.9C1063.8 228.4 1071.0 223.3 1075.6 220.5C1080.2 217.7 1083.3 216.8 1084.8 216.1L1084.8 310L876.0 310Z" fill="#36d60e"/>
<path d="M937.8 65.3C938.1 65.3 938.3 63.4 939.5 65.3C940.6 67.2 941.8 73.4 944.9 76.4C948.0 79.5 952.2 81.9 958.1 83.5C964.0 85.1 973.0 86.1 980.4 86.1C987.8 86.1 996.8 85.1 1002.7 83.5C1008.6 81.9 1012.8 79.5 1015.9 76.4C1019.0 73.4 1020.2 67.2 1021.3 65.3C1022.5 63.4 1022.7 65.3 1023.0 65.3L1023.0 40L937.8 40Z" fill="#8edc08"/>
<path d="M937.8 287.3C938.1 287.3 938.3 289.2 939.5 287.3C940.6 285.4 941.8 279.2 944.9 276.2C948.0 273.1 952.2 270.7 958.1 269.1C964.0 267.5 973.0 266.5 980.4 266.5C987.8 266.5 996.8 267.5 1002.7 269.1C1008.6 270.7 1012.8 273.1 1015.9 276.2C1019.0 279.2 1020.2 285.4 1021.3 287.3C1022.5 289.2 1022.7 287.3 1023.0 287.3L1023.0 310L937.8 310Z" fill="#8edc08"/>
<path d="M940.3 62.7C941.5 64.3 944.3 69.8 948.0 72.4C951.6 74.9 956.7 76.8 962.1 78.0C967.5 79.3 974.3 79.8 980.4 79.8C986.5 79.8 993.3 79.3 998.7 78.0C1004.1 76.8 1009.2 74.9 1012.8 72.4C1016.5 69.8 1019.3 64.3 1020.5 62.7L1020.5 40L940.3 40Z" fill="#d2dc06"/>
<path d="M940.3 289.9C941.5 288.3 944.3 282.8 948.0 280.2C951.6 277.7 956.7 275.8 962.1 274.6C967.5 273.3 974.3 272.8 980.4 272.8C986.5 272.8 993.3 273.3 998.7 274.6C1004.1 275.8 1009.2 277.7 1012.8 280.2C1016.5 282.8 1019.3 288.3 1020.5 289.9L1020.5 310L940.3 310Z" fill="#d2dc06"/>
<path d="M942.9 62.7C944.4 63.9 948.5 68.6 952.0 70.4C955.5 72.1 959.4 72.4 964.1 73.0C968.9 73.6 975.0 73.8 980.4 73.8C985.8 73.8 991.9 73.6 996.7 73.0C1001.4 72.4 1005.3 72.1 1008.8 70.4C1012.3 68.6 1016.4 63.9 1017.9 62.7L1017.9 40L942.9 40Z" fill="#eaa00a"/>
<path d="M942.9 289.9C944.4 288.7 948.5 284.0 952.0 282.2C955.5 280.5 959.4 280.2 964.1 279.6C968.9 279.0 975.0 278.8 980.4 278.8C985.8 278.8 991.9 279.0 996.7 279.6C1001.4 280.2 1005.3 280.5 1008.8 282.2C1012.3 284.0 1016.4 288.7 1017.9 289.9L1017.9 310L942.9 310Z" fill="#eaa00a"/>
<ellipse cx="951.5" cy="64.2" rx="7" ry="1.8" fill="#e8580c"/>
<ellipse cx="1008.5" cy="64.2" rx="8" ry="1.8" fill="#e8580c"/>
<ellipse cx="951.5" cy="288.4" rx="7" ry="1.8" fill="#e8580c"/>
<ellipse cx="1008.5" cy="288.4" rx="8" ry="1.8" fill="#e8580c"/>
<rect x="930" y="50" width="100" height="12.2" fill="#8edc08"/>
<rect x="930" y="50" width="100" height="11.3" fill="#10d63c"/>
<rect x="930" y="50" width="100" height="10.6" fill="#10ccb4"/>
<rect x="930" y="290.5" width="100" height="12" fill="#8edc08"/>
<rect x="930" y="291.3" width="100" height="12" fill="#10d63c"/>
<rect x="930" y="292" width="100" height="12" fill="#10ccb4"/>
<polygon points="1008.5,130.8 1041.4,160.5 1041.4,192.5 1008.5,222.2 952.3,222.2 919.4,192.5 919.4,160.5 952.3,130.8" fill="#0c9add" stroke="#0c9add" stroke-width="36" stroke-linejoin="round"/>
<path d="M1038.9 176.5L1038.3 188.3L1036.5 197.1L1033.6 204.7L1029.5 211.3L1024.4 217.0L1018.1 221.7L1010.9 225.4L1002.5 228.0L992.9 229.7L979.9 230.2L966.9 229.7L957.3 228.0L948.9 225.4L941.7 221.7L935.4 217.0L930.3 211.3L926.2 204.7L923.3 197.1L921.5 188.3L920.9 176.5L921.5 164.7L923.3 155.9L926.2 148.3L930.3 141.7L935.4 136.0L941.7 131.3L948.9 127.6L957.3 125.0L966.9 123.3L979.9 122.8L992.9 123.3L1002.5 125.0L1010.9 127.6L1018.1 131.3L1024.4 136.0L1029.5 141.7L1033.6 148.3L1036.5 155.9L1038.3 164.7Z" fill="#0c4eda"/>
<path d="M1020.2 176.5L1019.8 187.1L1018.8 193.8L1017.1 199.3L1014.6 203.9L1011.5 207.7L1007.6 210.9L1003.0 213.3L997.6 215.1L991.0 216.1L980.4 216.5L969.8 216.1L963.2 215.1L957.8 213.3L953.2 210.9L949.3 207.7L946.2 203.9L943.7 199.3L942.0 193.8L941.0 187.1L940.6 176.5L941.0 165.9L942.0 159.2L943.7 153.7L946.2 149.1L949.3 145.3L953.2 142.1L957.8 139.7L963.2 137.9L969.8 136.9L980.4 136.5L991.0 136.9L997.6 137.9L1003.0 139.7L1007.6 142.1L1011.5 145.3L1014.6 149.1L1017.1 153.7L1018.8 159.2L1019.8 165.9Z" fill="#0606d2"/>
<clipPath id="hcc"><rect x="921.0" y="70.0" width="17.3" height="27.0"/><rect x="921.0" y="255.7" width="17.3" height="27.0"/><rect x="1022.3" y="70.0" width="17.3" height="27.0"/><rect x="1022.3" y="255.7" width="17.3" height="27.0"/></clipPath>
<g clip-path="url(#hcc)"><path d="M938.8 55.2L1021.8 55.2L1021.8 59.2C1021.8 77.9 1029.8 87.8 1033.3 91.2L1078.1 134.7L1078.1 217.8L1033.3 261.5C1029.8 264.9 1021.8 274.8 1021.8 293.5L1021.8 297.5L938.8 297.5L938.8 293.5C938.8 274.8 930.8 264.9 927.3 261.5L882.8 217.8L882.8 134.7L927.3 91.2C930.8 87.8 938.8 77.9 938.8 59.2Z" fill="none" stroke="#8edc08" stroke-width="8.0"/><path d="M938.8 55.2L1021.8 55.2L1021.8 59.2C1021.8 77.9 1029.8 87.8 1033.3 91.2L1078.1 134.7L1078.1 217.8L1033.3 261.5C1029.8 264.9 1021.8 274.8 1021.8 293.5L1021.8 297.5L938.8 297.5L938.8 293.5C938.8 274.8 930.8 264.9 927.3 261.5L882.8 217.8L882.8 134.7L927.3 91.2C930.8 87.8 938.8 77.9 938.8 59.2Z" fill="none" stroke="#d2dc06" stroke-width="4.6"/><path d="M938.8 55.2L1021.8 55.2L1021.8 59.2C1021.8 77.9 1029.8 87.8 1033.3 91.2L1078.1 134.7L1078.1 217.8L1033.3 261.5C1029.8 264.9 1021.8 274.8 1021.8 293.5L1021.8 297.5L938.8 297.5L938.8 293.5C938.8 274.8 930.8 264.9 927.3 261.5L882.8 217.8L882.8 134.7L927.3 91.2C930.8 87.8 938.8 77.9 938.8 59.2Z" fill="none" stroke="#e8580c" stroke-width="2.0"/></g>
</g></g>
<path d="M938.8 55.2L1021.8 55.2L1021.8 59.2C1021.8 77.9 1029.8 87.8 1033.3 91.2L1078.1 134.7L1078.1 217.8L1033.3 261.5C1029.8 264.9 1021.8 274.8 1021.8 293.5L1021.8 297.5L938.8 297.5L938.8 293.5C938.8 274.8 930.8 264.9 927.3 261.5L882.8 217.8L882.8 134.7L927.3 91.2C930.8 87.8 938.8 77.9 938.8 59.2Z" fill="none" stroke="#4a5a10" stroke-width=".9" opacity=".75" filter="url(#b2)"/>
<g transform="translate(0,0)">
<g class="lt">
<text x="11.3" y="18.9" textLength="44.5" lengthAdjust="spacingAndGlyphs">S, S11</text>
<text x="11.3" y="37" textLength="163" lengthAdjust="spacingAndGlyphs">SNEG, (fraction = -1.0)</text>
<text x="11.3" y="54" textLength="82" lengthAdjust="spacingAndGlyphs">(<tspan class="cj">平均</tspan>: 75%)</text>
</g>
<rect x="11.2" y="67.90" width="21.2" height="14.30" fill="#f40010"/>
<rect x="11.2" y="82.00" width="21.2" height="14.30" fill="#fc5c10"/>
<rect x="11.2" y="96.10" width="21.2" height="14.30" fill="#fcb410"/>
<rect x="11.2" y="110.20" width="21.2" height="14.30" fill="#ecf810"/>
<rect x="11.2" y="124.30" width="21.2" height="14.30" fill="#8cee04"/>
<rect x="11.2" y="138.40" width="21.2" height="14.30" fill="#2ce404"/>
<rect x="11.2" y="152.50" width="21.2" height="14.30" fill="#04e42c"/>
<rect x="11.2" y="166.60" width="21.2" height="14.30" fill="#04ec88"/>
<rect x="11.2" y="180.70" width="21.2" height="14.30" fill="#04f2e2"/>
<rect x="11.2" y="194.80" width="21.2" height="14.30" fill="#0cacf0"/>
<rect x="11.2" y="208.90" width="21.2" height="14.30" fill="#0c58ee"/>
<rect x="11.2" y="223.00" width="21.2" height="14.30" fill="#0a0aea"/>
<rect x="11.2" y="67.9" width="21.2" height="169.20" fill="none" stroke="#2a2a2a" stroke-width=".8" opacity=".6"/>
<line x1="11.2" x2="38.5" y1="67.90" y2="67.90" class="tk"/>
<line x1="11.2" x2="38.5" y1="82.00" y2="82.00" class="tk"/>
<line x1="11.2" x2="38.5" y1="96.10" y2="96.10" class="tk"/>
<line x1="11.2" x2="38.5" y1="110.20" y2="110.20" class="tk"/>
<line x1="11.2" x2="38.5" y1="124.30" y2="124.30" class="tk"/>
<line x1="11.2" x2="38.5" y1="138.40" y2="138.40" class="tk"/>
<line x1="11.2" x2="38.5" y1="152.50" y2="152.50" class="tk"/>
<line x1="11.2" x2="38.5" y1="166.60" y2="166.60" class="tk"/>
<line x1="11.2" x2="38.5" y1="180.70" y2="180.70" class="tk"/>
<line x1="11.2" x2="38.5" y1="194.80" y2="194.80" class="tk"/>
<line x1="11.2" x2="38.5" y1="208.90" y2="208.90" class="tk"/>
<line x1="11.2" x2="38.5" y1="223.00" y2="223.00" class="tk"/>
<line x1="11.2" x2="38.5" y1="237.10" y2="237.10" class="tk"/>
<g class="ll">
<text x="47.3" y="72.50" textLength="78.6" lengthAdjust="spacingAndGlyphs">+9.51e+01</text>
<text x="47.3" y="86.60" textLength="78.6" lengthAdjust="spacingAndGlyphs">+8.14e+01</text>
<text x="47.3" y="100.70" textLength="78.6" lengthAdjust="spacingAndGlyphs">+6.78e+01</text>
<text x="47.3" y="114.80" textLength="78.6" lengthAdjust="spacingAndGlyphs">+5.41e+01</text>
<text x="47.3" y="128.90" textLength="78.6" lengthAdjust="spacingAndGlyphs">+4.05e+01</text>
<text x="47.3" y="143.00" textLength="78.6" lengthAdjust="spacingAndGlyphs">+2.68e+01</text>
<text x="47.3" y="157.10" textLength="78.6" lengthAdjust="spacingAndGlyphs">+1.32e+01</text>
<text x="46.6" y="171.20" textLength="68" lengthAdjust="spacingAndGlyphs">-4.49e-01</text>
<text x="46.6" y="185.30" textLength="74" lengthAdjust="spacingAndGlyphs">-1.41e+01</text>
<text x="46.6" y="199.40" textLength="74" lengthAdjust="spacingAndGlyphs">-2.77e+01</text>
<text x="46.6" y="213.50" textLength="74" lengthAdjust="spacingAndGlyphs">-4.14e+01</text>
<text x="46.6" y="227.60" textLength="74" lengthAdjust="spacingAndGlyphs">-5.50e+01</text>
<text x="46.6" y="241.70" textLength="74" lengthAdjust="spacingAndGlyphs">-6.87e+01</text>
</g>
<g class="tr"><text x="92.4" y="263.4" text-anchor="middle" textLength="7.4" lengthAdjust="spacingAndGlyphs">Y</text><text x="121.0" y="292.1" text-anchor="middle" textLength="8" lengthAdjust="spacingAndGlyphs">X</text><text x="92.2" y="291.8" text-anchor="middle" fill="#18164c" style="font-size:11.5px" stroke="#18164c" stroke-width=".5">z</text></g>
<path d="M92.2 287.6 V275.6" stroke="#2fa43a" stroke-width="2.1" fill="none"/>
<path d="M88.9 277.0 L92.2 269.7 L95.5 277.0 Z" fill="#2fa43a"/>
<path d="M94.2 288.6 H105.2" stroke="#982434" stroke-width="2.1" fill="none"/>
<path d="M104.0 285.5 L111.2 288.6 L104.0 291.7 Z" fill="#982434"/>
</g>
<g transform="translate(374.7,-3)">
<g class="lt">
<text x="11.3" y="18.9" textLength="44.5" lengthAdjust="spacingAndGlyphs">S, S11</text>
<text x="11.3" y="37" textLength="163" lengthAdjust="spacingAndGlyphs">SNEG, (fraction = -1.0)</text>
<text x="11.3" y="54" textLength="82" lengthAdjust="spacingAndGlyphs">(<tspan class="cj">平均</tspan>: 75%)</text>
</g>
<rect x="11.2" y="67.90" width="21.2" height="14.30" fill="#f40010"/>
<rect x="11.2" y="82.00" width="21.2" height="14.30" fill="#fc5c10"/>
<rect x="11.2" y="96.10" width="21.2" height="14.30" fill="#fcb410"/>
<rect x="11.2" y="110.20" width="21.2" height="14.30" fill="#ecf810"/>
<rect x="11.2" y="124.30" width="21.2" height="14.30" fill="#8cee04"/>
<rect x="11.2" y="138.40" width="21.2" height="14.30" fill="#2ce404"/>
<rect x="11.2" y="152.50" width="21.2" height="14.30" fill="#04e42c"/>
<rect x="11.2" y="166.60" width="21.2" height="14.30" fill="#04ec88"/>
<rect x="11.2" y="180.70" width="21.2" height="14.30" fill="#04f2e2"/>
<rect x="11.2" y="194.80" width="21.2" height="14.30" fill="#0cacf0"/>
<rect x="11.2" y="208.90" width="21.2" height="14.30" fill="#0c58ee"/>
<rect x="11.2" y="223.00" width="21.2" height="14.30" fill="#0a0aea"/>
<rect x="11.2" y="67.9" width="21.2" height="169.20" fill="none" stroke="#2a2a2a" stroke-width=".8" opacity=".6"/>
<line x1="11.2" x2="38.5" y1="67.90" y2="67.90" class="tk"/>
<line x1="11.2" x2="38.5" y1="82.00" y2="82.00" class="tk"/>
<line x1="11.2" x2="38.5" y1="96.10" y2="96.10" class="tk"/>
<line x1="11.2" x2="38.5" y1="110.20" y2="110.20" class="tk"/>
<line x1="11.2" x2="38.5" y1="124.30" y2="124.30" class="tk"/>
<line x1="11.2" x2="38.5" y1="138.40" y2="138.40" class="tk"/>
<line x1="11.2" x2="38.5" y1="152.50" y2="152.50" class="tk"/>
<line x1="11.2" x2="38.5" y1="166.60" y2="166.60" class="tk"/>
<line x1="11.2" x2="38.5" y1="180.70" y2="180.70" class="tk"/>
<line x1="11.2" x2="38.5" y1="194.80" y2="194.80" class="tk"/>
<line x1="11.2" x2="38.5" y1="208.90" y2="208.90" class="tk"/>
<line x1="11.2" x2="38.5" y1="223.00" y2="223.00" class="tk"/>
<line x1="11.2" x2="38.5" y1="237.10" y2="237.10" class="tk"/>
<g class="ll">
<text x="47.3" y="72.50" textLength="78.6" lengthAdjust="spacingAndGlyphs">+1.96e+02</text>
<text x="47.3" y="86.60" textLength="78.6" lengthAdjust="spacingAndGlyphs">+1.72e+02</text>
<text x="47.3" y="100.70" textLength="78.6" lengthAdjust="spacingAndGlyphs">+1.48e+02</text>
<text x="47.3" y="114.80" textLength="78.6" lengthAdjust="spacingAndGlyphs">+1.24e+02</text>
<text x="47.3" y="128.90" textLength="78.6" lengthAdjust="spacingAndGlyphs">+1.01e+02</text>
<text x="47.3" y="143.00" textLength="78.6" lengthAdjust="spacingAndGlyphs">+7.68e+01</text>
<text x="47.3" y="157.10" textLength="78.6" lengthAdjust="spacingAndGlyphs">+5.30e+01</text>
<text x="47.3" y="171.20" textLength="78.6" lengthAdjust="spacingAndGlyphs">+2.91e+01</text>
<text x="47.3" y="185.30" textLength="78.6" lengthAdjust="spacingAndGlyphs">+5.29e+00</text>
<text x="46.6" y="199.40" textLength="74" lengthAdjust="spacingAndGlyphs">-1.85e+01</text>
<text x="46.6" y="213.50" textLength="74" lengthAdjust="spacingAndGlyphs">-4.24e+01</text>
<text x="46.6" y="227.60" textLength="74" lengthAdjust="spacingAndGlyphs">-6.62e+01</text>
<text x="46.6" y="241.70" textLength="74" lengthAdjust="spacingAndGlyphs">-9.01e+01</text>
</g>
<g class="tr"><text x="92.4" y="263.4" text-anchor="middle" textLength="7.4" lengthAdjust="spacingAndGlyphs">Y</text><text x="121.0" y="292.1" text-anchor="middle" textLength="8" lengthAdjust="spacingAndGlyphs">X</text><text x="92.2" y="291.8" text-anchor="middle" fill="#18164c" style="font-size:11.5px" stroke="#18164c" stroke-width=".5">z</text></g>
<path d="M92.2 287.6 V275.6" stroke="#2fa43a" stroke-width="2.1" fill="none"/>
<path d="M88.9 277.0 L92.2 269.7 L95.5 277.0 Z" fill="#2fa43a"/>
<path d="M94.2 288.6 H105.2" stroke="#982434" stroke-width="2.1" fill="none"/>
<path d="M104.0 285.5 L111.2 288.6 L104.0 291.7 Z" fill="#982434"/>
</g>
<g transform="translate(743.8,0.3)">
<g class="lt">
<text x="11.3" y="18.9" textLength="44.5" lengthAdjust="spacingAndGlyphs">S, S11</text>
<text x="11.3" y="37" textLength="163" lengthAdjust="spacingAndGlyphs">SNEG, (fraction = -1.0)</text>
<text x="11.3" y="54" textLength="82" lengthAdjust="spacingAndGlyphs">(<tspan class="cj">平均</tspan>: 75%)</text>
</g>
<rect x="11.2" y="67.90" width="21.2" height="14.30" fill="#f40010"/>
<rect x="11.2" y="82.00" width="21.2" height="14.30" fill="#fc5c10"/>
<rect x="11.2" y="96.10" width="21.2" height="14.30" fill="#fcb410"/>
<rect x="11.2" y="110.20" width="21.2" height="14.30" fill="#ecf810"/>
<rect x="11.2" y="124.30" width="21.2" height="14.30" fill="#8cee04"/>
<rect x="11.2" y="138.40" width="21.2" height="14.30" fill="#2ce404"/>
<rect x="11.2" y="152.50" width="21.2" height="14.30" fill="#04e42c"/>
<rect x="11.2" y="166.60" width="21.2" height="14.30" fill="#04ec88"/>
<rect x="11.2" y="180.70" width="21.2" height="14.30" fill="#04f2e2"/>
<rect x="11.2" y="194.80" width="21.2" height="14.30" fill="#0cacf0"/>
<rect x="11.2" y="208.90" width="21.2" height="14.30" fill="#0c58ee"/>
<rect x="11.2" y="223.00" width="21.2" height="14.30" fill="#0a0aea"/>
<rect x="11.2" y="67.9" width="21.2" height="169.20" fill="none" stroke="#2a2a2a" stroke-width=".8" opacity=".6"/>
<line x1="11.2" x2="38.5" y1="67.90" y2="67.90" class="tk"/>
<line x1="11.2" x2="38.5" y1="82.00" y2="82.00" class="tk"/>
<line x1="11.2" x2="38.5" y1="96.10" y2="96.10" class="tk"/>
<line x1="11.2" x2="38.5" y1="110.20" y2="110.20" class="tk"/>
<line x1="11.2" x2="38.5" y1="124.30" y2="124.30" class="tk"/>
<line x1="11.2" x2="38.5" y1="138.40" y2="138.40" class="tk"/>
<line x1="11.2" x2="38.5" y1="152.50" y2="152.50" class="tk"/>
<line x1="11.2" x2="38.5" y1="166.60" y2="166.60" class="tk"/>
<line x1="11.2" x2="38.5" y1="180.70" y2="180.70" class="tk"/>
<line x1="11.2" x2="38.5" y1="194.80" y2="194.80" class="tk"/>
<line x1="11.2" x2="38.5" y1="208.90" y2="208.90" class="tk"/>
<line x1="11.2" x2="38.5" y1="223.00" y2="223.00" class="tk"/>
<line x1="11.2" x2="38.5" y1="237.10" y2="237.10" class="tk"/>
<g class="ll">
<text x="47.3" y="72.50" textLength="78.6" lengthAdjust="spacingAndGlyphs">+1.32e+02</text>
<text x="47.3" y="86.60" textLength="78.6" lengthAdjust="spacingAndGlyphs">+1.17e+02</text>
<text x="47.3" y="100.70" textLength="78.6" lengthAdjust="spacingAndGlyphs">+1.01e+02</text>
<text x="47.3" y="114.80" textLength="78.6" lengthAdjust="spacingAndGlyphs">+8.59e+01</text>
<text x="47.3" y="128.90" textLength="78.6" lengthAdjust="spacingAndGlyphs">+7.05e+01</text>
<text x="47.3" y="143.00" textLength="78.6" lengthAdjust="spacingAndGlyphs">+5.51e+01</text>
<text x="47.3" y="157.10" textLength="78.6" lengthAdjust="spacingAndGlyphs">+3.97e+01</text>
<text x="47.3" y="171.20" textLength="78.6" lengthAdjust="spacingAndGlyphs">+2.44e+01</text>
<text x="47.3" y="185.30" textLength="78.6" lengthAdjust="spacingAndGlyphs">+8.97e+00</text>
<text x="46.6" y="199.40" textLength="74" lengthAdjust="spacingAndGlyphs">-6.42e+00</text>
<text x="46.6" y="213.50" textLength="74" lengthAdjust="spacingAndGlyphs">-2.18e+01</text>
<text x="46.6" y="227.60" textLength="74" lengthAdjust="spacingAndGlyphs">-3.72e+01</text>
<text x="46.6" y="241.70" textLength="74" lengthAdjust="spacingAndGlyphs">-5.26e+01</text>
</g>
<g class="tr"><text x="92.4" y="263.4" text-anchor="middle" textLength="7.4" lengthAdjust="spacingAndGlyphs">Y</text><text x="121.0" y="292.1" text-anchor="middle" textLength="8" lengthAdjust="spacingAndGlyphs">X</text><text x="92.2" y="291.8" text-anchor="middle" fill="#18164c" style="font-size:11.5px" stroke="#18164c" stroke-width=".5">z</text></g>
<path d="M92.2 287.6 V275.6" stroke="#2fa43a" stroke-width="2.1" fill="none"/>
<path d="M88.9 277.0 L92.2 269.7 L95.5 277.0 Z" fill="#2fa43a"/>
<path d="M94.2 288.6 H105.2" stroke="#982434" stroke-width="2.1" fill="none"/>
<path d="M104.0 285.5 L111.2 288.6 L104.0 291.7 Z" fill="#982434"/>
</g>
<text class="pl" y="289.4"><tspan x="297.3" dy="-0.8">(</tspan><tspan x="309.3" dy="0.8">a</tspan><tspan x="328.4" dy="-0.8">)</tspan></text>
<text class="pl" y="288.3"><tspan x="671" dy="-1.5">(</tspan><tspan x="683.6" dy="1.5">b</tspan><tspan x="702.5" dy="-1.5">)</tspan></text>
<text class="pl" y="291"><tspan x="1042.4" dy="-1.0">(</tspan><tspan x="1054.5" dy="1.0">c</tspan><tspan x="1071.6" dy="-1.0">)</tspan></text>
<text class="pl" x="780.3" y="698.8" textLength="36.5" lengthAdjust="spacingAndGlyphs">(d)</text>
<text class="cap" y="809.2"><tspan x="99.6">图 </tspan><tspan x="130.1">6 </tspan><tspan x="154.3" letter-spacing="-.2">不同尺寸试件结果对比</tspan><tspan x="393.2">：</tspan><tspan x="413.6">（</tspan><tspan x="441.2">a</tspan><tspan x="458.9">）</tspan><tspan x="475.9">l=75mm</tspan><tspan x="556.5">（</tspan><tspan x="582.3">b</tspan><tspan x="596.5">）</tspan><tspan x="617">l=80mm</tspan><tspan x="697.7">（</tspan><tspan x="723.2">c</tspan><tspan x="736.8">）</tspan><tspan x="757.3">l=95mm</tspan><tspan x="838.3">（</tspan><tspan x="863.7">d</tspan><tspan x="879.4">）</tspan><tspan x="899.2">截面形状</tspan></text>
</svg></body></html>
